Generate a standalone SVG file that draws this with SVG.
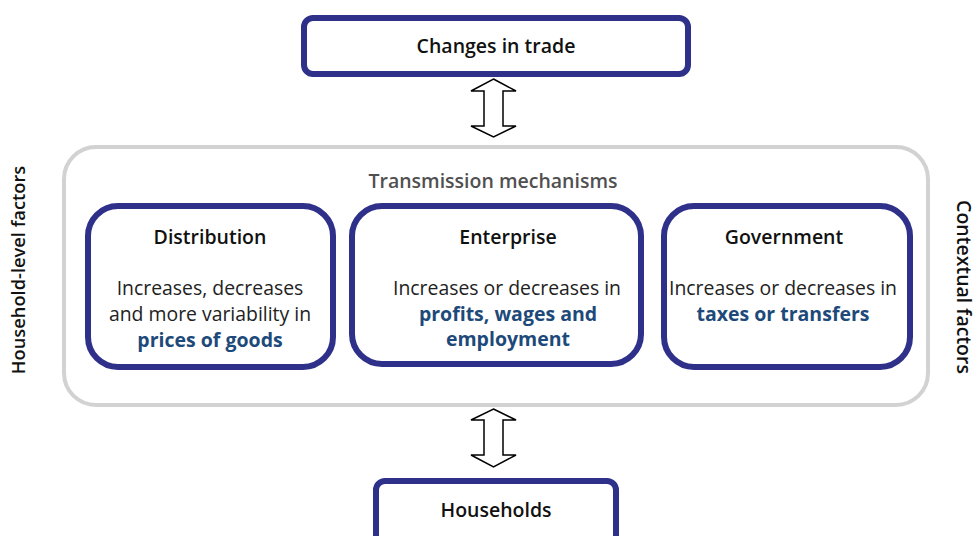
<svg xmlns="http://www.w3.org/2000/svg" width="977" height="536" viewBox="0 0 977 536">
<style>
.node{fill:#fff;stroke:#2e3089;stroke-width:6}
.outer{fill:#fff;stroke:#d2d2d2;stroke-width:4}
.t{font-family:"Open Sans","Noto Sans",sans-serif;text-anchor:middle;fill:#111}
.title{font-size:19.5px;font-weight:600}
.body{font-size:19.4px;font-weight:400;fill:#222}
.blue{font-size:19.5px;font-weight:700;fill:#1d4a7a}
.arrow{fill:#fff;stroke:#000;stroke-width:1.5;stroke-linejoin:miter}
</style>
<rect width="977" height="536" fill="#fff"/>
<g id="mechanisms">
<rect class="outer" x="64" y="147" width="864" height="258" rx="32"/>
<text class="t" x="493" y="188" style="font-size:19.5px;font-weight:600;fill:#505050">Transmission mechanisms</text>
</g>
<g id="changes-in-trade">
<rect class="node" x="304" y="18" width="384" height="56" rx="9"/>
<text class="t title" x="496" y="53">Changes in trade</text>
</g>
<g id="distribution">
<rect class="node" x="88" y="206" width="245" height="161" rx="30"/>
<text class="t title" x="210" y="244">Distribution</text>
<text class="t body" x="210" y="295">Increases, decreases</text>
<text class="t body" x="210" y="321">and more variability in</text>
<text class="t blue" x="210" y="347">prices of goods</text>
</g>
<g id="enterprise">
<rect class="node" x="352" y="206" width="289" height="158" rx="30"/>
<text class="t title" x="508" y="244">Enterprise</text>
<text class="t body" x="507" y="295">Increases or decreases in</text>
<text class="t blue" x="508" y="321">profits, wages and</text>
<text class="t blue" x="508" y="346">employment</text>
</g>
<g id="government">
<rect class="node" x="664" y="206" width="246" height="161" rx="30"/>
<text class="t title" x="784" y="244">Government</text>
<text class="t body" x="783" y="295">Increases or decreases in</text>
<text class="t blue" x="783" y="321">taxes or transfers</text>
</g>
<g id="households">
<rect class="node" x="376" y="481" width="240" height="70" rx="9"/>
<text class="t title" x="496" y="517">Households</text>
</g>
<g id="household-level-factors">
<text class="t title" style="font-size:18.3px" transform="translate(25,270) rotate(-90)">Household-level factors</text>
</g>
<g id="contextual-factors">
<text class="t title" transform="translate(957,287) rotate(90)">Contextual factors</text>
</g>
<g id="connectors">
<polygon class="arrow" points="493.5,79 516,91 503,91 503,126 516,126 493.5,137 471,126 484,126 484,91 471,91"/>
<polygon class="arrow" points="493.5,409 516,420 503,420 503,455 516,455 493.5,467 471,455 484,455 484,420 471,420"/>
</g>
</svg>
